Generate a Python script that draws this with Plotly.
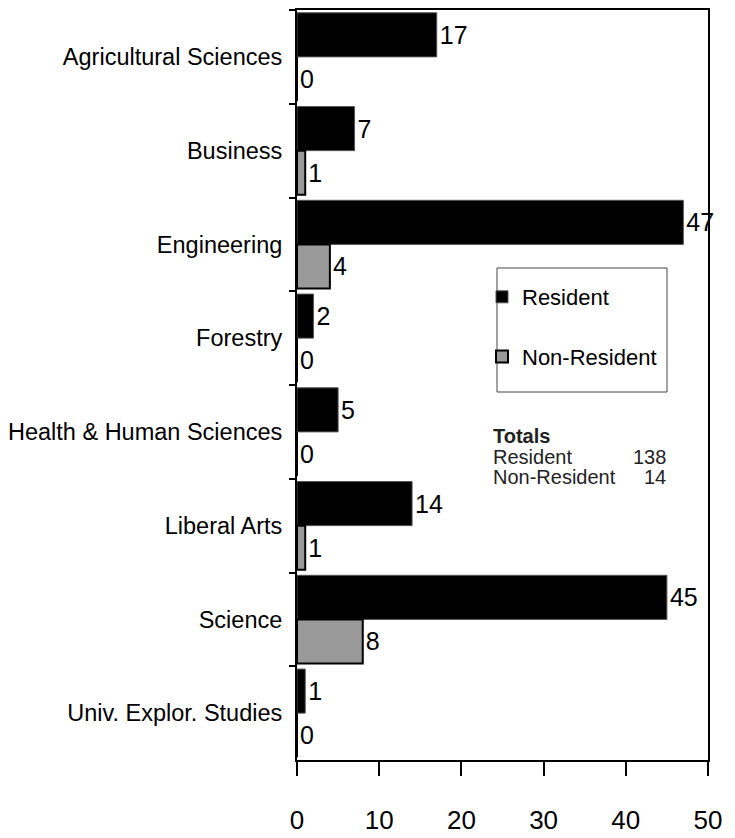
import plotly.graph_objects as go

categories = ["Agricultural Sciences", "Business", "Engineering", "Forestry",
              "Health & Human Sciences", "Liberal Arts", "Science", "Univ. Explor. Studies"]
resident = [17, 7, 47, 2, 5, 14, 45, 1]
non_resident = [0, 1, 4, 0, 0, 1, 8, 0]
x_ticks = [0, 10, 20, 30, 40, 50]
total_resident = 138
total_non_resident = 14

MAIN = "Liberation Sans, Arial, sans-serif"
REG = "Liberation Sans, Arial, sans-serif"

# page offset (body margin) and figure size
OFF = 8
FIG_W, FIG_H = 735 - OFF, 838 - OFF
# plot-area pixel geometry in window coordinates
L, R, T, B = 297, 708, 10, 760
W, H = R - L, B - T
def px(x):
    return (x - L) / W
def py(y):
    return (B - y) / H

fig = go.Figure()
fig.add_trace(go.Bar(
    y=categories, x=resident, orientation="h", name="Resident",
    marker=dict(color="#000000", line=dict(color="#555555", width=1)),
    text=resident, textposition="outside", cliponaxis=False, constraintext="none",
    textfont=dict(family=MAIN, size=25, color="black"),
    legendgroup="a",
))
fig.add_trace(go.Bar(
    y=categories, x=non_resident, orientation="h", name="Non-Resident",
    marker=dict(color="#999999", line=dict(color="#000000", width=2)),
    text=non_resident, textposition="outside", cliponaxis=False, constraintext="none",
    textfont=dict(family=MAIN, size=25, color="black"),
    legendgroup="b",
))

fig.update_layout(
    width=FIG_W, height=FIG_H,
    margin=dict(l=L - OFF, r=FIG_W - (R - OFF), t=T - OFF, b=FIG_H - (B - OFF), autoexpand=False),
    paper_bgcolor="white", plot_bgcolor="white",
    barmode="group", bargap=0.06, bargroupgap=0,
    font=dict(family=MAIN, size=23, color="black"),
    showlegend=True,
    legend=dict(
        x=px(482), y=py(276), xanchor="left", yanchor="top",
        bgcolor="rgba(0,0,0,0)", borderwidth=0,
        font=dict(family=MAIN, size=22, color="black"),
        traceorder="grouped", tracegroupgap=28,
        itemwidth=30,
    ),
    xaxis=dict(
        range=[0, 50], tickvals=x_ticks, ticktext=[str(v) for v in x_ticks],
        showgrid=False, zeroline=False, automargin=False,
        showline=True, linecolor="black", linewidth=2, mirror=True,
        ticks="outside", ticklen=14, tickwidth=2, tickcolor="black",
        tickfont=dict(family=MAIN, size=26, color="black"),
        ticklabelstandoff=22,
    ),
    yaxis=dict(
        autorange="reversed", showgrid=False, zeroline=False, automargin=False,
        showline=True, linecolor="black", linewidth=2, mirror=True,
        ticks="outside", ticklen=6, tickwidth=2, tickcolor="black",
        tickson="boundaries",
        tickfont=dict(family=MAIN, size=23.5, color="black"),
        ticklabelstandoff=8,
    ),
)

# legend frame
fig.add_shape(type="rect", xref="paper", yref="paper",
              x0=px(497), x1=px(667), y0=py(392), y1=py(268),
              line=dict(color="#444444", width=1), fillcolor="white", layer="below")

# Totals box text
tot_font = dict(family=REG, size=20, color="#222222")
fig.add_annotation(x=px(491), y=py(449), xref="paper", yref="paper",
                   xanchor="left", yanchor="bottom", showarrow=False,
                   text="<b>Totals</b>", font=tot_font)
fig.add_annotation(x=px(491), y=py(470), xref="paper", yref="paper",
                   xanchor="left", yanchor="bottom", showarrow=False,
                   text="Resident", font=tot_font)
fig.add_annotation(x=px(668), y=py(470), xref="paper", yref="paper",
                   xanchor="right", yanchor="bottom", showarrow=False,
                   text=str(total_resident), font=tot_font)
fig.add_annotation(x=px(491), y=py(490), xref="paper", yref="paper",
                   xanchor="left", yanchor="bottom", showarrow=False,
                   text="Non-Resident", font=tot_font)
fig.add_annotation(x=px(668), y=py(490), xref="paper", yref="paper",
                   xanchor="right", yanchor="bottom", showarrow=False,
                   text=str(total_non_resident), font=tot_font)

fig.write_html("out.html")
